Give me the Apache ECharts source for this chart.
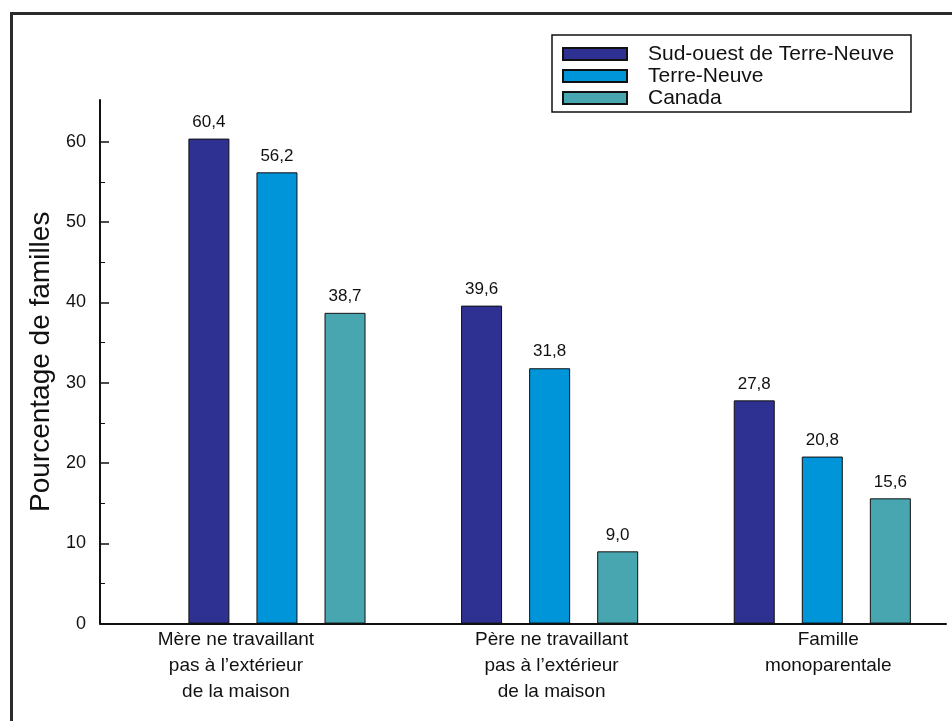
<!DOCTYPE html>
<html>
<head>
<meta charset="utf-8">
<script src="https://cdn.jsdelivr.net/npm/echarts@6/dist/echarts.min.js"></script>
<style>
  html, body { margin: 0; padding: 0; background: #ffffff; }
  #chart { width: 952px; height: 721px; }
</style>
</head>
<body>
<div id="chart"></div>
<script>
// Family situation by region (percentages)
const categories = [
  'Mère ne travaillant\npas à l’extérieur\nde la maison',
  'Père ne travaillant\npas à l’extérieur\nde la maison',
  'Famille\nmonoparentale'
];
const seriesNames = ['Sud-ouest de Terre-Neuve', 'Terre-Neuve', 'Canada'];
const sudOuestValues = [60.4, 39.6, 27.8];
const terreNeuveValues = [56.2, 31.8, 20.8];
const canadaValues = [38.7, 9.0, 15.6];
const yTicks = [0, 10, 20, 30, 40, 50, 60];

const colors = ['#2e3192', '#0094d9', '#47a6b0'];
const FONT = '"Liberation Sans", Arial, Helvetica, sans-serif';

// horizontal nudges of the category captions (px, + is right)
const labelShift = [-7, 36, 40];

const chart = echarts.init(document.getElementById('chart'), null, { renderer: 'canvas' });

const commaFmt = v => Number(v).toFixed(1).replace('.', ',');

const BAR_W = 41;
const BAR_GAP = '66%';

function barSeries(name, values, color) {
  return {
    name: name,
    type: 'bar',
    xAxisIndex: 0,
    yAxisIndex: 0,
    data: values,
    barWidth: BAR_W,
    barGap: BAR_GAP,
    clip: false,
    itemStyle: { color: color, borderColor: '#111', borderWidth: 1 },
    label: {
      show: true,
      position: 'top',
      distance: 8,
      formatter: p => commaFmt(p.value),
      fontFamily: FONT,
      fontSize: 17,
      color: '#111'
    }
  };
}

const option = {
  backgroundColor: '#ffffff',
  animation: false,
  graphic: [{
    type: 'rect',
    shape: { x: 11.5, y: 13.5, width: 1000, height: 1000 },
    style: { fill: null, stroke: '#2b2b2b', lineWidth: 3 },
    silent: true
  }],
  legend: {
    orient: 'vertical',
    left: 552,
    top: 35,
    padding: [8, 6, 3, 10],
    itemGap: 0,
    itemWidth: 64,
    itemHeight: 12,
    icon: 'rect',
    borderColor: '#111',
    borderWidth: 1.5,
    data: seriesNames,
    textStyle: {
      fontFamily: FONT,
      fontSize: 21,
      lineHeight: 22,
      color: '#111',
      width: 257,
      padding: [0, 0, 0, 16]
    }
  },
  grid: [
    // bars and tick labels
    { left: 106.6, width: 818, top: 141.8, bottom: 97.4, containLabel: false },
    // full-length axis lines
    { left: 100, right: 6, top: 100, bottom: 97.4, containLabel: false }
  ],
  xAxis: [
    {
      gridIndex: 0,
      type: 'category',
      data: categories.map((c, i) => ({
        value: c,
        textStyle: {
          padding: labelShift[i] < 0 ? [0, -2 * labelShift[i], 0, 0] : [0, 0, 0, 2 * labelShift[i]]
        }
      })),
      axisLine: { show: false },
      axisTick: { show: false },
      axisLabel: {
        interval: 0,
        margin: 3,
        fontFamily: FONT,
        fontSize: 19,
        lineHeight: 26,
        color: '#111'
      },
      splitLine: { show: false }
    },
    {
      gridIndex: 1,
      type: 'value',
      min: 0,
      max: 1,
      axisLine: { show: true, onZero: false, lineStyle: { color: '#111', width: 2 } },
      axisTick: { show: false },
      axisLabel: { show: false },
      splitLine: { show: false }
    }
  ],
  yAxis: [
    {
      gridIndex: 0,
      type: 'value',
      min: yTicks[0],
      max: yTicks[yTicks.length - 1],
      interval: 10,
      position: 'left',
      offset: 6.6,
      axisLine: { show: false },
      axisTick: { show: true, inside: true, length: 9, lineStyle: { color: '#111', width: 1.5 } },
      minorTick: { show: true, splitNumber: 2, length: 5, lineStyle: { color: '#111', width: 1 } },
      axisLabel: {
        margin: 14,
        fontFamily: FONT,
        fontSize: 18,
        color: '#111'
      },
      splitLine: { show: false }
    },
    {
      gridIndex: 1,
      type: 'value',
      min: 0,
      max: 1,
      name: 'Pourcentage de familles',
      nameLocation: 'middle',
      nameRotate: 90,
      nameGap: 45,
      nameTextStyle: { fontFamily: FONT, fontSize: 28, color: '#111' },
      axisLine: { show: true, onZero: false, lineStyle: { color: '#111', width: 2 } },
      axisTick: { show: false },
      axisLabel: { show: false },
      splitLine: { show: false }
    }
  ],
  series: [
    // empty leading slot: keeps each group of three bars right of its band centre
    {
      name: 'slot',
      type: 'bar',
      xAxisIndex: 0,
      yAxisIndex: 0,
      data: ['-', '-', '-'],
      barWidth: BAR_W,
      barGap: BAR_GAP,
      silent: true,
      itemStyle: { color: 'transparent' }
    },
    barSeries(seriesNames[0], sudOuestValues, colors[0]),
    barSeries(seriesNames[1], terreNeuveValues, colors[1]),
    barSeries(seriesNames[2], canadaValues, colors[2])
  ]
};

chart.setOption(option);
</script>
</body>
</html>
